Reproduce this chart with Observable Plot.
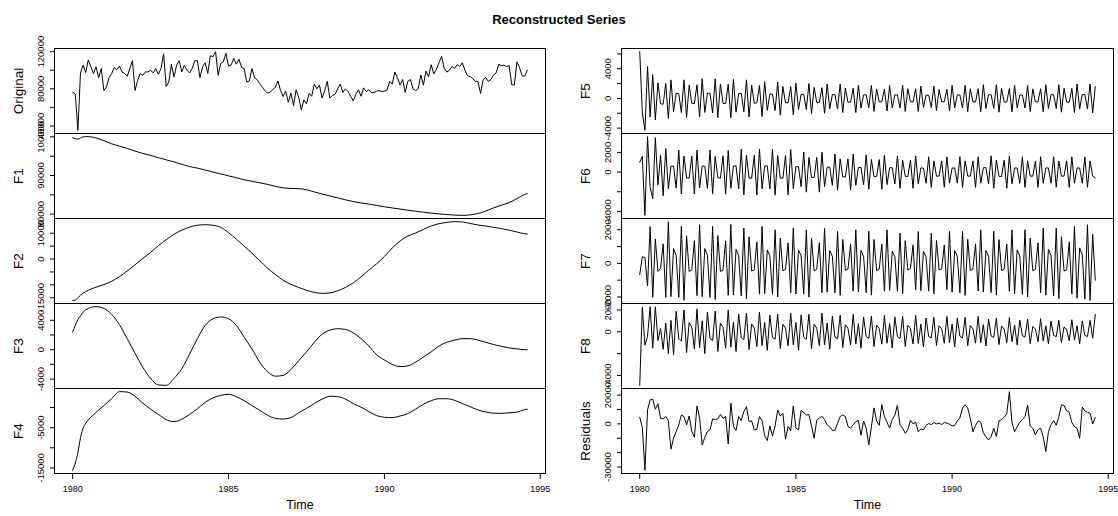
<!DOCTYPE html>
<html><head><meta charset="utf-8">
<script src="https://cdn.jsdelivr.net/npm/d3@7"></script>
<script src="https://cdn.jsdelivr.net/npm/@observablehq/plot@0.6"></script>
<style>
body{margin:0;background:#fff;}
#chart{position:relative;width:1118px;height:516px;font-family:"Liberation Sans",Arial,sans-serif;color:#000;}
#title{position:absolute;top:12px;left:0;width:1118px;text-align:center;font-weight:bold;font-size:13px;line-height:16px;}
.panel{position:absolute;}
</style></head><body>
<div id="chart"><div id="title">Reconstructed Series</div></div>
<script>
// ---- data (monthly, Jan 1980 .. Aug 1994) ----
const startYear = 1980;
const xTicks = [1980, 1985, 1990, 1995];

const original = [76400,74500,35300,97000,105500,97500,111000,103600,96400,103600,
92000,101800,78200,81800,92000,96400,102900,100700,104400,98200,
96400,93500,101800,110200,78200,89100,96400,94500,98200,98200,
100000,97100,101800,95600,101800,117500,82500,87300,106500,92700,
105500,110200,98200,105500,100000,97100,101800,110200,110200,92000,
103600,108000,96400,115600,114500,120000,94500,107300,109100,118200,
104400,105500,112700,106500,112000,102900,101800,87300,88400,101800,
92000,89800,85500,81800,78200,75300,76400,79000,81800,88400,
78200,71600,77500,65500,75300,61800,79000,70900,57500,68000,
64000,75000,72000,85000,80000,84000,70000,78000,88000,70000,
73000,74000,80000,85000,76000,80000,77000,72000,67000,74000,
79000,72000,81000,77000,79000,76000,76000,77500,78000,77000,
77500,78500,88000,85000,98000,92000,84000,90000,76000,88000,
90000,80000,78000,80000,95000,84000,99000,93000,106000,96000,
101000,108000,115000,102000,98000,100000,104000,102000,106000,104000,
108000,100000,94000,93000,91000,88000,88000,75000,90000,92000,
88000,90000,95000,97000,106500,105000,105500,104000,105000,84500,
84000,109000,103000,94000,93500,100000];

// month indices at which the smooth components are sampled
const smoothMonths = [0,1,2,3,4,5,6,9,12,15,18,21,24,27,30,33,36,39,42,45,48,51,54,57,60,63,66,69,72,75,78,81,84,87,90,93,96,99,102,105,108,111,114,117,120,123,126,129,132,135,138,141,144,147,150,153,156,159,162,165,168,171,174,175];

const f1 = [99800,99500,99400,99700,100000,100050,100050,
99700,99000,98200,97600,97000,96300,95700,95200,94600,94050,
93500,92900,92300,91900,91400,90900,90400,89900,89400,88900,
88500,88100,87700,87200,86800,86650,86600,86300,85750,85200,
84700,84200,83700,83250,82900,82600,82250,81900,81600,81300,
81000,80750,80500,80250,80050,79900,79750,79680,79800,80150,
80800,81600,82300,83000,84000,85100,85300];

const f2 = [-16000,-15900,-15000,-14000,-13200,-12600,-12100,
-10900,-9900,-8600,-6800,-4600,-2200,200,2600,5200,7500,
9600,11200,12400,13100,13300,13100,12300,10200,7700,5000,
2300,-600,-3500,-6000,-8200,-9800,-11000,-12100,-12900,-13300,
-13100,-12300,-11000,-9200,-6900,-4300,-1800,1000,4300,7000,
8900,10100,11500,12800,13700,14200,14500,14400,13800,13200,
12800,12300,11800,11200,10500,9800,9700];

const f3 = [2400,3300,4100,4600,5100,5400,5600,
5850,5600,4800,3400,1500,-500,-2400,-3900,-4800,-4850,
-3900,-2600,-600,1500,3300,4200,4450,4200,3300,1700,
100,-1700,-3000,-3600,-3500,-2700,-1500,-300,1000,2100,
2650,2850,2750,2300,1500,500,-700,-1400,-2000,-2300,
-2200,-1700,-1000,-300,500,1000,1300,1500,1500,1300,
1000,700,450,250,100,0,0];

const f4 = [-15600,-13800,-11200,-7500,-5200,-3900,-3100,
-1200,500,2200,3950,3850,2800,1100,-400,-1700,-3000,
-3500,-2900,-1700,-300,1300,2400,3050,3280,2700,1700,
500,-700,-1900,-2700,-2850,-2500,-1300,-200,1000,2100,
2800,2700,2100,1000,100,-1000,-2000,-2400,-2500,-2100,
-1500,-400,800,1700,2200,2200,1800,1000,200,-600,
-1100,-1400,-1450,-1300,-1150,-500,-420];

const f5 = [6300,-1900,-4300,4300,-2500,3200,-2900,2100,-700,-800,2000,-2700,
2500,-1800,700,650,-1900,2500,-2550,1800,-650,-700,1850,-2500,
2650,-1900,720,680,-1950,2650,-2600,1950,-700,-680,1900,-2600,
2550,-1850,650,700,-1800,2500,-2500,1800,-650,-600,1750,-2450,
2250,-1600,600,580,-1650,2200,-2250,1600,-600,-580,1600,-2200,
2050,-1500,550,560,-1480,2000,-2050,1480,-550,-530,1450,-2000,
1950,-1400,520,500,-1420,1950,-1900,1400,-520,-500,1380,-1900,
1750,-1300,470,480,-1270,1750,-1750,1280,-470,-460,1250,-1700,
1750,-1280,460,470,-1300,1780,-1750,1300,-480,-470,1280,-1750,
1650,-1200,450,430,-1220,1650,-1650,1200,-440,-450,1220,-1680,
1750,-1280,480,460,-1300,1760,-1780,1300,-470,-480,1300,-1800,
1850,-1350,500,490,-1350,1850,-1850,1350,-500,-490,1330,-1800,
1760,-1280,470,460,-1290,1750,-1760,1290,-470,-460,1300,-1800,
1850,-1350,490,500,-1360,1850,-1850,1360,-490,-500,1370,-1900,
1950,-1420,520,520,-1420,1950,-1950,1600];

const f6 = [1000,1600,-4400,3600,-1500,-2700,3500,-1300,1700,-2400,2400,-1700,
600,600,-1630,2230,-2230,1630,-600,-600,1630,-2230,2230,-1630,
620,580,-1650,2250,-2200,1600,-580,-620,1650,-2250,2200,-1650,
620,630,-1700,2330,-2330,1700,-620,-630,1700,-2330,2330,-1700,
630,620,-1710,2320,-2340,1700,-630,-620,1690,-2320,2300,-1680,
550,540,-1490,2040,-2040,1490,-550,-540,1490,-2040,2030,-1480,
490,500,-1350,1840,-1840,1350,-490,-500,1350,-1840,1840,-1350,
470,460,-1280,1750,-1750,1280,-470,-460,1280,-1750,1740,-1270,
440,450,-1210,1650,-1650,1210,-440,-450,1210,-1650,1650,-1200,
420,410,-1140,1550,-1550,1140,-420,-410,1140,-1550,1550,-1130,
410,420,-1130,1560,-1550,1130,-410,-420,1140,-1560,1550,-1140,
440,450,-1200,1650,-1650,1210,-440,-450,1210,-1650,1640,-1200,
420,410,-1140,1550,-1560,1140,-420,-410,1130,-1550,1560,-1140,
410,420,-1130,1560,-1550,1130,-420,-410,1140,-1550,1550,-1140,
420,410,-1140,1550,-1550,1140,-420,-600];

const f7 = [-670,390,350,-1350,2180,-2020,1450,-480,-290,1160,-2020,2480,
-1980,870,480,-2020,2200,-2200,1640,-480,-390,1350,-1920,2300,
-1980,880,480,-2020,2200,-2150,1650,-480,-400,1340,-1910,2310,
-1890,840,460,-1930,2100,-2100,1580,-460,-380,1280,-1830,2200,
-1800,800,440,-1840,2000,-2000,1500,-440,-360,1220,-1740,2100,
-1820,790,450,-1830,1990,-2010,1490,-450,-350,1230,-1750,2080,
-1710,760,420,-1750,1900,-1900,1430,-420,-340,1160,-1650,2000,
-1700,770,410,-1740,1910,-1890,1420,-430,-350,1150,-1660,1990,
-1620,720,400,-1660,1800,-1800,1350,-400,-320,1100,-1570,1890,
-1630,710,390,-1650,1790,-1810,1360,-390,-330,1090,-1560,1900,
-1710,760,420,-1750,1900,-1900,1430,-420,-340,1160,-1650,2000,
-1700,770,410,-1740,1910,-1890,1420,-430,-350,1150,-1660,1990,
-1800,800,440,-1840,2000,-2000,1500,-440,-360,1220,-1740,2100,
-1890,840,460,-1930,2100,-2100,1580,-460,-380,1280,-1830,2200,
-2070,920,510,-2120,2300,-2200,1730,-1000];

const f8 = [-4900,2250,-1230,-400,2300,-1500,2300,-800,300,-1600,800,-2000,
1050,-2100,1890,-630,-840,2000,-1890,840,420,-1580,2100,-1470,
1000,-2000,1800,-600,-800,1900,-1800,800,400,-1500,2000,-1400,
900,-1800,1620,-540,-720,1710,-1620,720,360,-1350,1800,-1260,
850,-1700,1530,-510,-680,1620,-1530,680,340,-1280,1700,-1190,
860,-1690,1540,-500,-690,1610,-1540,690,330,-1270,1710,-1200,
800,-1600,1440,-480,-640,1520,-1440,640,320,-1200,1600,-1120,
750,-1500,1350,-450,-600,1430,-1350,600,300,-1130,1500,-1050,
760,-1490,1360,-440,-610,1420,-1360,610,290,-1120,1510,-1060,
700,-1400,1260,-420,-560,1330,-1260,560,280,-1050,1400,-980,
710,-1390,1270,-410,-570,1320,-1270,570,270,-1040,1410,-990,
650,-1300,1170,-390,-520,1240,-1170,520,260,-980,1300,-910,
600,-1200,1080,-360,-480,1140,-1080,480,240,-900,1200,-840,
550,-1100,990,-330,-440,1050,-990,440,220,-830,1100,-770,
550,-1100,990,-330,-440,1050,-600,1600];

const residuals = [4600,-2300,-32300,9700,16700,17100,10200,14000,3900,3500,
5100,2300,-17600,-9900,-5300,-700,6200,5100,-700,5500,
-5300,-9300,12500,3900,-14600,-9300,-5300,-4200,3500,3000,
3500,6500,3900,5100,-14000,14400,-1800,-4600,5100,2300,
8600,12000,1600,2100,-4200,-3700,5100,2300,-8300,-11600,
-1400,-8300,-1400,9700,5500,7400,-10600,-1800,-4600,12500,
-3000,-4200,9300,7900,6200,6500,-1400,-9950,2500,4000,
5300,3000,-700,-2000,-4500,-4600,500,5100,6250,5100,
-1850,-3000,-700,1600,2300,-7900,2000,-3000,-14600,-2000,
11100,2000,-1000,13400,5000,1000,-3000,3000,6000,12900,
-1000,-3000,-6500,-4000,2500,0,1200,-5500,-3500,-4200,
-1000,200,-500,1000,0,500,-500,1000,500,-200,
-1400,-1000,2000,4200,11000,13200,11000,4000,-5500,-1000,
2000,1000,-6200,-9000,-11100,-9000,-3000,-8800,2000,3000,
4600,7000,22400,1000,-5500,-2000,1000,3000,5000,13000,
-1500,-3000,-7600,-4000,-3000,-9000,-19200,-5500,-500,2300,
-1000,5000,13200,12800,9000,8000,1000,-2000,-3000,-9950,
11600,9000,8000,7500,0,4400];

// y-axis ticks and the labels that are printed
const panelNames = ["Original","F1","F2","F3","F4","F5","F6","F7","F8","Residuals"];
const panelTicks = [
  [40000,60000,80000,100000,120000],
  [80000,85000,90000,95000,100000],
  [-15000,-10000,-5000,0,5000,10000],
  [-4000,-2000,0,2000,4000],
  [-15000,-10000,-5000,0],
  [-4000,-2000,0,2000,4000,6000],
  [-4000,-2000,0,2000],
  [-2000,-1000,0,1000,2000],
  [-4000,-2000,0,2000],
  [-30000,-20000,-10000,0,10000,20000]
];
const panelLabels = [
  [40000,80000,120000],
  [80000,90000,100000],
  [-15000,0,10000],
  [-4000,0,4000],
  [-15000,-5000],
  [-4000,0,4000],
  [-4000,0,2000],
  [-2000,0,2000],
  [-4000,0,2000],
  [-30000,0,20000]
];
const panelValues = [original,f1,f2,f3,f4,f5,f6,f7,f8,residuals];
const panelSmooth = [false,true,true,true,true,false,false,false,false,false];

// ---- layout ----
const rowTop = 48, rowH = 85, svgW = 559;
const cols = [{svgLeft:0, frameLeft:54, frameRight:545},{svgLeft:559, frameLeft:621, frameRight:1113}];
const nMonths = original.length;
const tEnd = startYear + (nMonths - 1) / 12;
const xPad = 0.04 * (tEnd - startYear);
const xDomain = [startYear - xPad, tEnd + xPad];
const chart = document.getElementById("chart");

panelNames.forEach((name, k) => {
  const col = cols[Math.floor(k / 5)];
  const row = k % 5;
  const isBottom = row === 4;
  const mt = 12, mb = isBottom ? 45 : 12;
  const vals = panelValues[k];
  const months = panelSmooth[k] ? smoothMonths : d3.range(vals.length);
  const data = months.map((m, j) => ({t: startYear + m / 12, v: vals[j]}));
  const [lo, hi] = d3.extent(data, d => d.v);
  const yPad = 0.04 * (hi - lo);
  const marks = [
    Plot.line(data, {x: "t", y: "v", stroke: "#000", strokeWidth: 1, curve: panelSmooth[k] ? "monotone-x" : "linear"}),
    Plot.frame({stroke: "#000", strokeWidth: 1}),
    Plot.text(panelLabels[k], {y: d => d, text: d => String(d), frameAnchor: "left", rotate: -90, textAnchor: "middle", lineAnchor: "middle", dx: -13.5, fontSize: 9.5, fill: "#000"}),
    Plot.text([name], {text: d => d, frameAnchor: "left", rotate: -90, textAnchor: "middle", lineAnchor: "middle", dx: -35.5, fontSize: 13.5, fill: "#000"})
  ];
  if (isBottom) marks.push(Plot.text(["Time"], {text: d => d, frameAnchor: "bottom", dy: 35, fontSize: 12.5, fill: "#000"}));
  const svg = Plot.plot({
    width: svgW, height: rowH + mt + mb,
    marginTop: mt, marginBottom: mb,
    marginLeft: col.frameLeft - col.svgLeft,
    marginRight: col.svgLeft + svgW - col.frameRight,
    x: isBottom
      ? {domain: xDomain, ticks: xTicks, tickSize: 6, tickPadding: 6, tickFormat: d => String(d), label: null}
      : {domain: xDomain, axis: null},
    y: {domain: [lo - yPad, hi + yPad], ticks: panelTicks[k], tickSize: 4, tickPadding: 0, tickFormat: () => "", label: null},
    style: {background: "transparent", overflow: "visible", fontFamily: "'Liberation Sans', Arial, sans-serif", fontSize: "9px", color: "#000"},
    marks
  });
  const wrap = document.createElement("div");
  wrap.className = "panel";
  wrap.style.left = col.svgLeft + "px";
  wrap.style.top = (rowTop + row * rowH - mt) + "px";
  wrap.appendChild(svg);
  chart.appendChild(wrap);
});
</script>
</body></html>
